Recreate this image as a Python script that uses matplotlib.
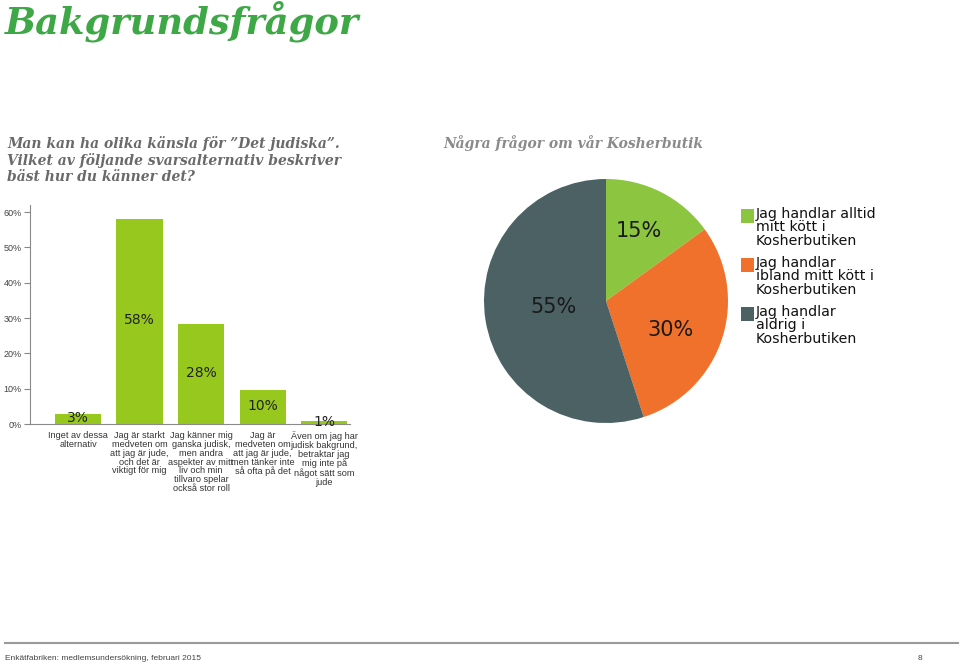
import matplotlib
matplotlib.use("Agg")
import matplotlib.pyplot as plt
from matplotlib.patches import Rectangle
from matplotlib.lines import Line2D
import numpy as np

# ---------------- data ----------------
bar_categories = [
    "Inget av dessa\nalternativ",
    "Jag är starkt\nmedveten om\natt jag är jude,\noch det är\nviktigt för mig",
    "Jag känner mig\nganska judisk,\nmen andra\naspekter av mitt\nliv och min\ntillvaro spelar\nockså stor roll",
    "Jag är\nmedveten om\natt jag är jude,\nmen tänker inte\nså ofta på det",
    "Även om jag har\njudisk bakgrund,\nbetraktar jag\nmig inte på\nnågot sätt som\njude",
]
bar_values = [2.8, 58.1, 28.2, 9.5, 0.8]
bar_labels = ["3%", "58%", "28%", "10%", "1%"]
y_ticks = [0, 10, 20, 30, 40, 50, 60]
y_tick_labels = ["0%", "10%", "20%", "30%", "40%", "50%", "60%"]

pie_labels = [
    "Jag handlar alltid\nmitt kött i\nKosherbutiken",
    "Jag handlar\nibland mitt kött i\nKosherbutiken",
    "Jag handlar\naldrig i\nKosherbutiken",
]
pie_values = [15, 30, 55]
pie_value_labels = ["15%", "30%", "55%"]

# ---------------- style ----------------
BAR_COLOR = "#97c81e"
PIE_COLORS = ["#8cc540", "#f0712b", "#4b6163"]
TITLE_GREEN = "#3fa846"
SERIF = ["DejaVu Serif"]
SANS = ["Liberation Sans", "DejaVu Sans"]

W, H = 960, 665
fig = plt.figure(figsize=(W / 100, H / 100), dpi=100)
fig.patch.set_facecolor("white")


def fx(px):
    return px / W


def fy(py):
    return 1 - py / H


# titles
fig.text(fx(5), fy(33), "Bakgrundsfrågor", family=SERIF, style="italic",
         weight="bold", fontsize=26.5, color=TITLE_GREEN, va="baseline", ha="left")
fig.text(fx(7), fy(160),
         "Man kan ha olika känsla för ”Det judiska”.\nVilket av följande svarsalternativ beskriver\nbäst hur du känner det?",
         family=SERIF, style="italic", weight="bold", fontsize=10,
         color="#6a6a6a", va="center", ha="left", linespacing=1.15)
fig.text(fx(443), fy(143), "Några frågor om vår Kosherbutik", family=SERIF,
         style="italic", weight="bold", fontsize=10, color="#8a8a8a",
         va="center", ha="left")

# ---------------- bar chart ----------------
ax = fig.add_axes([fx(30), fy(424), fx(350) - fx(30), fy(205) - fy(424)])
x = np.arange(len(bar_values))
bars = ax.bar(x, bar_values, width=0.75, color=BAR_COLOR, zorder=2)
for rect, lab in zip(bars, bar_labels):
    ax.text(rect.get_x() + rect.get_width() / 2, rect.get_height() / 2 + 0.3, lab,
            ha="center", va="center", fontsize=10, color="#222222")
ax.set_xlim(-0.78, 4.42)
ax.set_ylim(0, 62)
ax.set_yticks(y_ticks)
ax.set_yticklabels(y_tick_labels, fontsize=6.5, color="#444444", family=SANS)
ax.set_xticks(x)
ax.set_xticklabels(bar_categories, fontsize=6.6, family=SANS, color="#333333",
                   linespacing=0.98, va="top")
ax.tick_params(axis="x", length=0, pad=5)
ax.tick_params(axis="y", length=4, width=0.8, color="#888888", pad=2)
for s in ["top", "right"]:
    ax.spines[s].set_visible(False)
for s in ["left", "bottom"]:
    ax.spines[s].set_color("#8a8a8a")
    ax.spines[s].set_linewidth(0.8)

# ---------------- pie chart ----------------
cx, cy, r = 606, 301, 122
pax = fig.add_axes([fx(cx - r), fy(cy + r), fx(2 * r), fy(cy - r) - fy(cy + r)])
wedges, _ = pax.pie(pie_values, colors=PIE_COLORS, startangle=90,
                    counterclock=False, radius=1)
label_pos = {"15%": (65, 0.63), "30%": (-24, 0.58), "55%": (187, 0.43)}
for w, lab in zip(wedges, pie_value_labels):
    a, d = label_pos[lab]
    ang = np.deg2rad(a)
    pax.text(d * np.cos(ang), d * np.sin(ang), lab, ha="center", va="center",
             fontsize=15, color="#1a1a1a")
pax.set_xlim(-1, 1)
pax.set_ylim(-1, 1)
pax.set_aspect("equal")
pax.axis("off")

# legend
leg_tops = [209, 258, 307]
for top, lab, col in zip(leg_tops, pie_labels, PIE_COLORS):
    fig.add_artist(Rectangle((fx(741), fy(top + 14)), fx(13), fy(top) - fy(top + 14),
                             transform=fig.transFigure, facecolor=col,
                             edgecolor="none"))
    fig.text(fx(756), fy(top - 2), lab, ha="left", va="top", fontsize=10.2,
             color="#111111", linespacing=0.95)

# ---------------- footer ----------------
fig.add_artist(Line2D([fx(5), fx(958)], [fy(643), fy(643)], transform=fig.transFigure,
                      color="#9a9a9a", lw=1.5))
fig.text(fx(5), fy(658), "Enkätfabriken: medlemsundersökning, februari 2015",
         family=SANS, fontsize=6, color="#444444", va="center", ha="left")
fig.text(fx(918), fy(658), "8", family=SANS, fontsize=6, color="#444444",
         va="center", ha="left")

fig.savefig("out.png", dpi=100, facecolor="white")
